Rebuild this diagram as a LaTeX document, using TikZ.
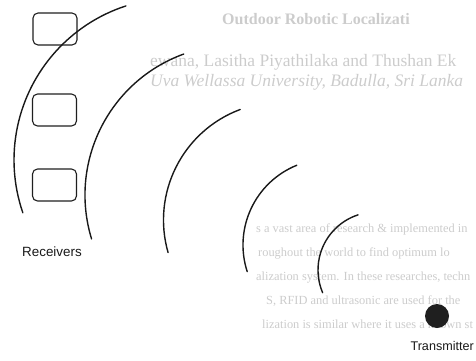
\documentclass[tikz,border=0pt]{standalone}
\usepackage{fontspec}
\setmainfont{Liberation Serif}
\newfontfamily\labelfont{Liberation Sans}
\begin{document}
\begin{tikzpicture}[x=1pt,y=1pt,
  receiver/.style={draw=black!88,line width=1.1pt,rounded corners=5pt,
    minimum width=44pt,minimum height=32pt,inner sep=0pt,fill=white},
  wave/.style={draw=black!90,line width=1.4pt,line cap=round},
  caption/.style={font=\labelfont\fontsize{13.4}{15}\selectfont,text=black!90,inner sep=0pt},
  faint/.style={text=black!20,inner sep=0pt,anchor=base west},
  bodytext/.style={faint,font=\fontsize{12.4}{15}\selectfont}]
\useasboundingbox (0,0) rectangle (476,360);
\clip (0,0) rectangle (476,360);

% show-through of the printed page behind the sketch
\node[faint,font=\bfseries\fontsize{16}{18}\selectfont] (title) at (222,336) {Outdoor Robotic Localizati};
\node[faint,font=\fontsize{17.5}{20}\selectfont] (authors) at (150,294) {ewana, Lasitha Piyathilaka and Thushan Ek};
\node[faint,font=\itshape\fontsize{17.5}{20}\selectfont] (affil) at (150,274) {Uva Wellassa University, Badulla, Sri Lanka};
\node[bodytext] (l1) at (256,128) {s a vast area of research \& implemented in};
\node[bodytext] (l2) at (258,104) {roughout the world to find optimum lo};
\node[bodytext] (l3) at (256,80) {alization system. In these researches, techn};
\node[bodytext] (l4) at (266,56) {S, RFID and ultrasonic are used for the};
\node[bodytext] (l5) at (262,32) {lization is similar where it uses a known st};

% receivers
\node[receiver] (r1) at (55,331) {};
\node[receiver] (r2) at (54.5,250) {};
\node[receiver] (r3) at (54.5,175) {};
\node[caption,anchor=base west] (rlabel) at (22,104) {Receivers};

% wave fronts, largest first
\draw[wave] (176,200)   ++(108:162) arc[start angle=108,end angle=199,radius=162];
\draw[wave] (235,165)   ++(110:150) arc[start angle=110,end angle=197,radius=150];
\draw[wave] (281.5,140) ++(110.5:118) arc[start angle=110.5,end angle=196,radius=118];
\draw[wave] (329,115)   ++(112:86) arc[start angle=112,end angle=198,radius=86];
\draw[wave] (376,90)    ++(108:58) arc[start angle=108,end angle=203,radius=58];

% transmitter
\node[circle,fill=black!88,minimum size=24pt,inner sep=0pt] (tx) at (437,44) {};
\node[caption,anchor=base east,font=\labelfont\fontsize{12.6}{15}\selectfont] (tlabel) at (474,10) {Transmitter};
\end{tikzpicture}
\end{document}
